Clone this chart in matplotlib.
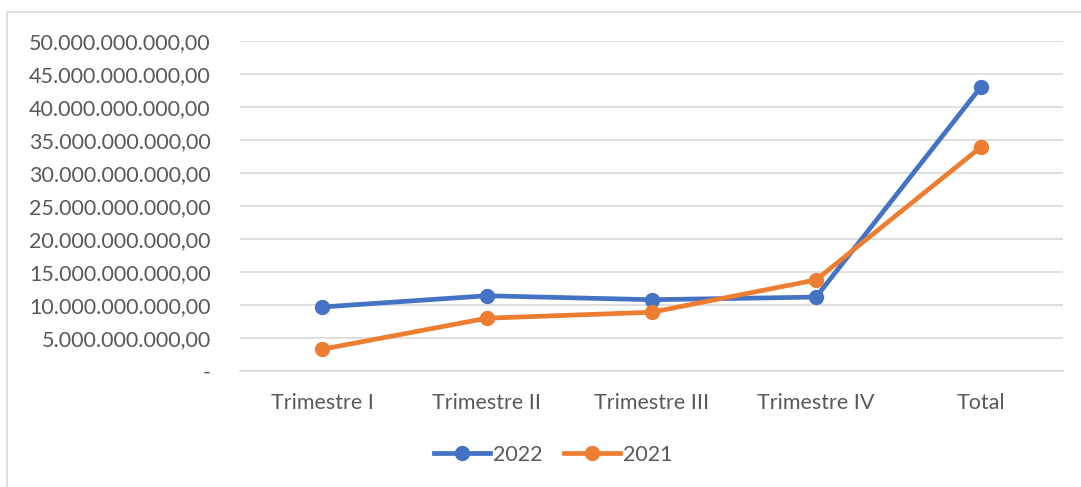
import matplotlib
matplotlib.use("Agg")
import matplotlib.pyplot as plt
from matplotlib.patches import Rectangle
from matplotlib.ticker import FuncFormatter

categories = ["Trimestre I", "Trimestre II", "Trimestre III", "Trimestre IV", "Total"]
valores_2022 = [9.7e9, 11.4e9, 10.8e9, 11.2e9, 43.0e9]
valores_2021 = [3.3e9, 8.0e9, 8.9e9, 13.8e9, 33.9e9]
y_ticks = [i * 5e9 for i in range(11)]


def fmt_money(v, pos):
    if v == 0:
        return "-"
    s = f"{v:,.2f}"
    return s.replace(",", "X").replace(".", ",").replace("X", ".")


plt.rcParams['font.family'] = ['Lato', 'DejaVu Sans']
text_col = "#595959"

fig = plt.figure(figsize=(10.81, 4.87), dpi=100)
ax = fig.add_axes([240 / 1081, 1 - 371 / 487, (1063 - 240) / 1081, 330 / 487])

x = list(range(len(categories)))
ax.plot(x, valores_2022, color="#4472C4", lw=3.4, marker="o", ms=10, label="2022", zorder=3)
ax.plot(x, valores_2021, color="#ED7D31", lw=3.4, marker="o", ms=10, label="2021", zorder=3)

ax.set_xlim(-0.5, len(categories) - 0.5)
ax.set_ylim(0, 50e9)
ax.set_yticks(y_ticks)
ax.yaxis.set_major_formatter(FuncFormatter(fmt_money))
ax.set_xticks(x)
ax.set_xticklabels(categories)
ax.grid(axis="y", color="#D9D9D9", lw=1.2)
ax.set_axisbelow(True)
for s in ["top", "right", "left"]:
    ax.spines[s].set_visible(False)
ax.spines["bottom"].set_color("#D9D9D9")
ax.spines["bottom"].set_linewidth(1.2)
ax.tick_params(axis="both", length=0, labelsize=15.5, colors=text_col)
ax.tick_params(axis="y", pad=21)
ax.tick_params(axis="x", pad=16)

leg = fig.legend(loc="center", bbox_to_anchor=(553 / 1081, 1 - 455 / 487), ncol=2,
                 frameon=False, fontsize=15.5, handlelength=2.6, columnspacing=1.0,
                 handletextpad=0.15)
for t in leg.get_texts():
    t.set_color(text_col)

fig.patches.append(Rectangle((7 / 1081, -0.05), 1.1, 1 - 12 / 487 + 0.05,
                             transform=fig.transFigure, fill=False,
                             edgecolor="#D9D9D9", lw=1.2))

fig.savefig("out.png", dpi=100)
